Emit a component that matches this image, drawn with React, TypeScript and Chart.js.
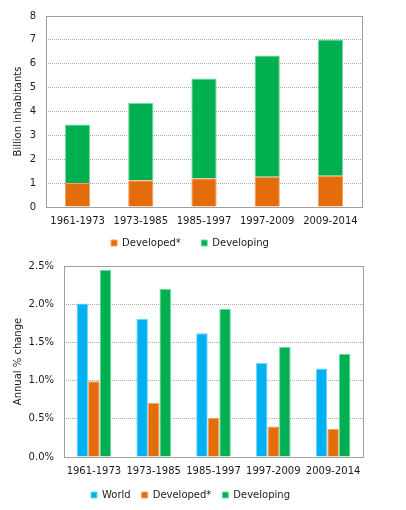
import React, { useEffect, useRef } from "react";
import { Chart, registerables } from "chart.js";

Chart.register(...registerables);

const categories = ["1961-1973", "1973-1985", "1985-1997", "1997-2009", "2009-2014"];

// Top chart: population (billion inhabitants)
const popDeveloped = [1.01, 1.12, 1.2, 1.27, 1.31];
const popDeveloping = [2.45, 3.24, 4.18, 5.08, 5.71];
const popTicks = { min: 0, max: 8, step: 1 };

// Bottom chart: annual % change
const growthWorld = [2.01, 1.81, 1.62, 1.23, 1.16];
const growthDeveloped = [0.99, 0.71, 0.51, 0.4, 0.37];
const growthDeveloping = [2.45, 2.2, 1.94, 1.44, 1.35];
const growthTicks = { min: 0, max: 2.5, step: 0.5 };

const FONT = "'DejaVu Sans', Verdana, sans-serif";
const TEXT = "#1a1a1a";
const ORANGE = "#E46C0A";
const ORANGE_EDGE = "#F2A066";
const GREEN = "#00B050";
const GREEN_EDGE = "#6FDCA0";
const BLUE = "#00B0F0";
const BLUE_EDGE = "#73D6FA";
const FRAME = "#a0a0a0";
const GRID = "#a8a8a8";

const framePlugin = {
  id: "frame",
  beforeDatasetsDraw(chart: any) {
    const { ctx, chartArea } = chart;
    const l = Math.round(chartArea.left) + 0.5;
    const t = Math.round(chartArea.top) + 0.5;
    const r = Math.round(chartArea.right) + 0.5;
    const b = Math.round(chartArea.bottom) + 0.5;
    ctx.save();
    ctx.strokeStyle = FRAME;
    ctx.lineWidth = 1;
    ctx.setLineDash([]);
    ctx.strokeRect(l, t, r - l, b - t);
    ctx.restore();
  },
};

function makeOptions(cfg: {
  title: string;
  min: number;
  max: number;
  step: number;
  fmt: (v: number) => string;
  yWidth: number;
  xHeight: number;
  padRight: number;
  padBottom: number;
  legendPad: number;
  legendExtra: string;
  stacked: boolean;
}) {
  return {
    responsive: false,
    animation: false,
    devicePixelRatio: 1,
    layout: {
      padding: { left: 18, right: cfg.padRight, top: 16, bottom: cfg.padBottom },
    },
    plugins: {
      legend: {
        position: "bottom",
        labels: {
          boxWidth: 6,
          boxHeight: 6,
          padding: cfg.legendPad,
          color: TEXT,
          font: { family: FONT, size: 10 },
          generateLabels(chart: any) {
            const items = Chart.defaults.plugins.legend.labels.generateLabels(chart);
            items.forEach((it: any, i: number) => {
              if (i < items.length - 1) it.text = it.text + cfg.legendExtra;
            });
            return items;
          },
        },
      },
      tooltip: { enabled: false },
    },
    scales: {
      x: {
        stacked: cfg.stacked,
        grid: { display: false, drawTicks: false },
        border: { display: false },
        ticks: { padding: 8, color: TEXT, font: { family: FONT, size: 10 }, maxRotation: 0 },
        afterFit(scale: any) {
          scale.height = cfg.xHeight;
        },
      },
      y: {
        stacked: cfg.stacked,
        min: cfg.min,
        max: cfg.max,
        grid: { color: GRID, lineWidth: 1, drawTicks: false },
        border: { display: false, dash: [1, 1] },
        ticks: {
          stepSize: cfg.step,
          padding: 10,
          color: TEXT,
          font: { family: FONT, size: 10 },
          callback: (v: any) => cfg.fmt(Number(v)),
        },
        title: {
          display: true,
          text: cfg.title,
          color: TEXT,
          font: { family: FONT, size: 10 },
          padding: { top: -6, bottom: 0 },
        },
        afterFit(scale: any) {
          scale.width = cfg.yWidth;
        },
      },
    },
  } as any;
}

function TopChart() {
  const ref = useRef<HTMLCanvasElement>(null);
  useEffect(() => {
    const chart = new Chart(ref.current!, {
      type: "bar",
      data: {
        labels: categories,
        datasets: [
          {
            label: "Developed*",
            data: popDeveloped,
            backgroundColor: ORANGE,
            borderColor: ORANGE_EDGE,
            borderWidth: 1,
            barPercentage: 0.4,
            categoryPercentage: 1,
          },
          {
            label: "Developing",
            data: popDeveloping,
            backgroundColor: GREEN,
            borderColor: GREEN_EDGE,
            borderWidth: 1,
            barPercentage: 0.4,
            categoryPercentage: 1,
          },
        ],
      },
      options: makeOptions({
        title: "Billion inhabitants",
        min: popTicks.min,
        max: popTicks.max,
        step: popTicks.step,
        fmt: (v) => String(v),
        yWidth: 28,
        xHeight: 20,
        padRight: 44,
        padBottom: 2,
        legendPad: 11,
        legendExtra: "   ",
        stacked: true,
      }),
      plugins: [framePlugin],
    });
    return () => chart.destroy();
  }, []);
  return (
    <canvas
      ref={ref}
      width={406}
      height={260}
      style={{ position: "absolute", left: 0, top: 0, width: 406, height: 260 }}
    />
  );
}

function BottomChart() {
  const ref = useRef<HTMLCanvasElement>(null);
  useEffect(() => {
    const common = { borderWidth: 1, barPercentage: 1, categoryPercentage: 0.58 };
    const chart = new Chart(ref.current!, {
      type: "bar",
      data: {
        labels: categories,
        datasets: [
          { label: "World", data: growthWorld, backgroundColor: BLUE, borderColor: BLUE_EDGE, ...common },
          { label: "Developed*", data: growthDeveloped, backgroundColor: ORANGE, borderColor: ORANGE_EDGE, ...common },
          { label: "Developing", data: growthDeveloping, backgroundColor: GREEN, borderColor: GREEN_EDGE, ...common },
        ],
      },
      options: makeOptions({
        title: "Annual % change",
        min: growthTicks.min,
        max: growthTicks.max,
        step: growthTicks.step,
        fmt: (v) => v.toFixed(1) + "%",
        yWidth: 46,
        xHeight: 22,
        padRight: 43,
        padBottom: 0,
        legendPad: 11,
        legendExtra: "",
        stacked: false,
      }),
      plugins: [framePlugin],
    });
    return () => chart.destroy();
  }, []);
  return (
    <canvas
      ref={ref}
      width={406}
      height={260}
      style={{ position: "absolute", left: 0, top: 250, width: 406, height: 260 }}
    />
  );
}

export default function App() {
  return (
    <div
      style={{
        position: "absolute",
        left: 0,
        top: 0,
        width: 406,
        height: 510,
        overflow: "hidden",
        background: "#ffffff",
      }}
    >
      <TopChart />
      <BottomChart />
    </div>
  );
}
